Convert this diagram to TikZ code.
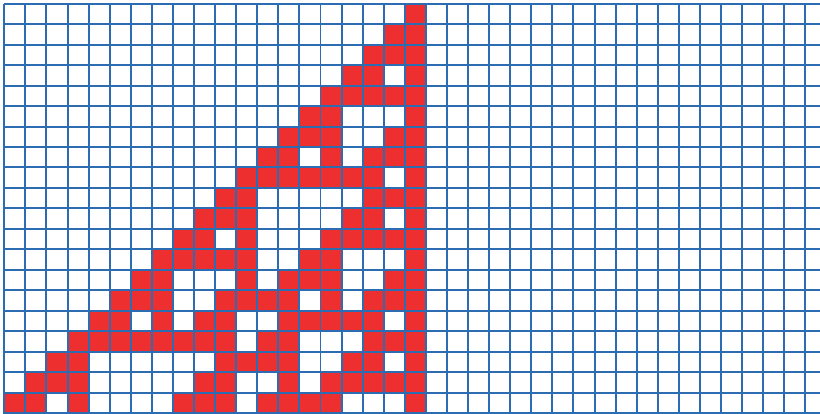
\documentclass[tikz,border=0pt]{standalone}
\usepackage{tikz}
\definecolor{GridBlue}{RGB}{44,108,178}
\definecolor{CellRed}{RGB}{238,47,47}

\begin{document}
\begin{tikzpicture}[x=0.527cm, y=-0.51175cm,
    cell/.style={fill=CellRed},
    gridline/.style={draw=GridBlue, line width=1.4pt}]
    \useasboundingbox (-0.204,-0.181) rectangle (38.696,19.995);
    \clip (-0.204,-0.181) rectangle (38.696,19.995);
    % red cells, one row per generation
    \foreach \r/\cells in {0/{19}, 1/{18,19}, 2/{17,18,19}, 3/{16,17,19},
        4/{15,16,17,18,19}, 5/{14,15,19}, 6/{13,14,15,18,19},
        7/{12,13,15,17,18,19}, 8/{11,12,13,14,15,16,17,19},
        9/{10,11,17,18,19}, 10/{9,10,11,16,17,19},
        11/{8,9,11,15,16,17,18,19}, 12/{7,8,9,10,11,14,15,19},
        13/{6,7,11,13,14,15,18,19}, 14/{5,6,7,10,11,12,13,15,17,18,19},
        15/{4,5,7,9,10,13,14,15,16,17,19},
        16/{3,4,5,6,7,8,9,10,12,13,17,18,19},
        17/{2,3,10,11,12,13,16,17,19},
        18/{1,2,3,9,10,13,15,16,17,18,19},
        19/{0,1,3,8,9,10,12,13,14,15,19}} {
      \foreach \c in \cells {
        \fill[cell] (\c,\r) rectangle ++(1,1);
      }
    }
    % grid
    \foreach \c in {0,...,39} {
      \draw[gridline] (\c,0) -- (\c,20.5);
    }
    \foreach \r in {0,...,20} {
      \draw[gridline] (0,\r) -- (39.5,\r);
    }
\end{tikzpicture}
\end{document}
